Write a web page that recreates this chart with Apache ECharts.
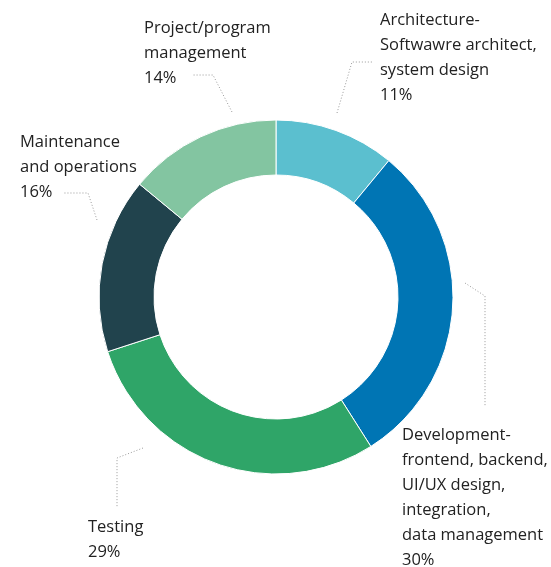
<!DOCTYPE html>
<html>
<head>
<meta charset="utf-8">
<script src="https://cdn.jsdelivr.net/npm/echarts@6/dist/echarts.min.js"></script>
<style>
  html, body { margin: 0; background: #fff; }
  #chart { width: 551px; height: 567px; }
</style>
</head>
<body>
<div id="chart"></div>
<script>
// slices, clockwise from 12 o'clock
const categories = [
  'Architecture-\nSoftwawre architect,\nsystem design',
  'Development-\nfrontend, backend,\nUI/UX design,\nintegration,\ndata management',
  'Testing',
  'Maintenance\nand operations',
  'Project/program\nmanagement'
];
const shares = [11, 30, 29, 16, 14];
const colors = ['#5bbfcf', '#0075b4', '#2fa568', '#21434d', '#83c5a1'];

// where each label block sits (left, top) and its dotted leader line
const labelBoxes = [[380, 8], [402, 423], [88, 515], [20, 130], [144, 16]];
const leaders = [
  [[337, 113], [352, 62], [372, 62]],
  [[465, 283], [485, 296], [485, 407]],
  [[143, 448], [117, 458], [117, 507]],
  [[97, 220], [88, 193], [63, 193]],
  [[232, 112], [213, 75], [192, 75]]
];

const chart = echarts.init(document.getElementById('chart'));

chart.setOption({
  animation: false,
  series: [{
    type: 'pie',
    center: [276, 297],
    radius: [122, 177],
    startAngle: 90,
    clockwise: true,
    avoidLabelOverlap: false,
    itemStyle: { borderColor: '#fff', borderWidth: 1 },
    emphasis: { disabled: true },
    label: {
      show: true,
      position: 'outer',
      formatter: '{b}\n{c}%',
      color: '#222',
      fontFamily: 'Open Sans',
      fontSize: 16.5,
      lineHeight: 25
    },
    labelLine: {
      show: true,
      lineStyle: { color: '#999', width: 1, type: [1, 2] }
    },
    labelLayout: function (params) {
      const i = params.dataIndex;
      return {
        x: labelBoxes[i][0],
        y: labelBoxes[i][1],
        align: 'left',
        verticalAlign: 'top',
        labelLinePoints: leaders[i]
      };
    },
    data: categories.map((name, i) => ({
      name: name,
      value: shares[i],
      itemStyle: { color: colors[i] }
    }))
  }]
});
</script>
</body>
</html>
